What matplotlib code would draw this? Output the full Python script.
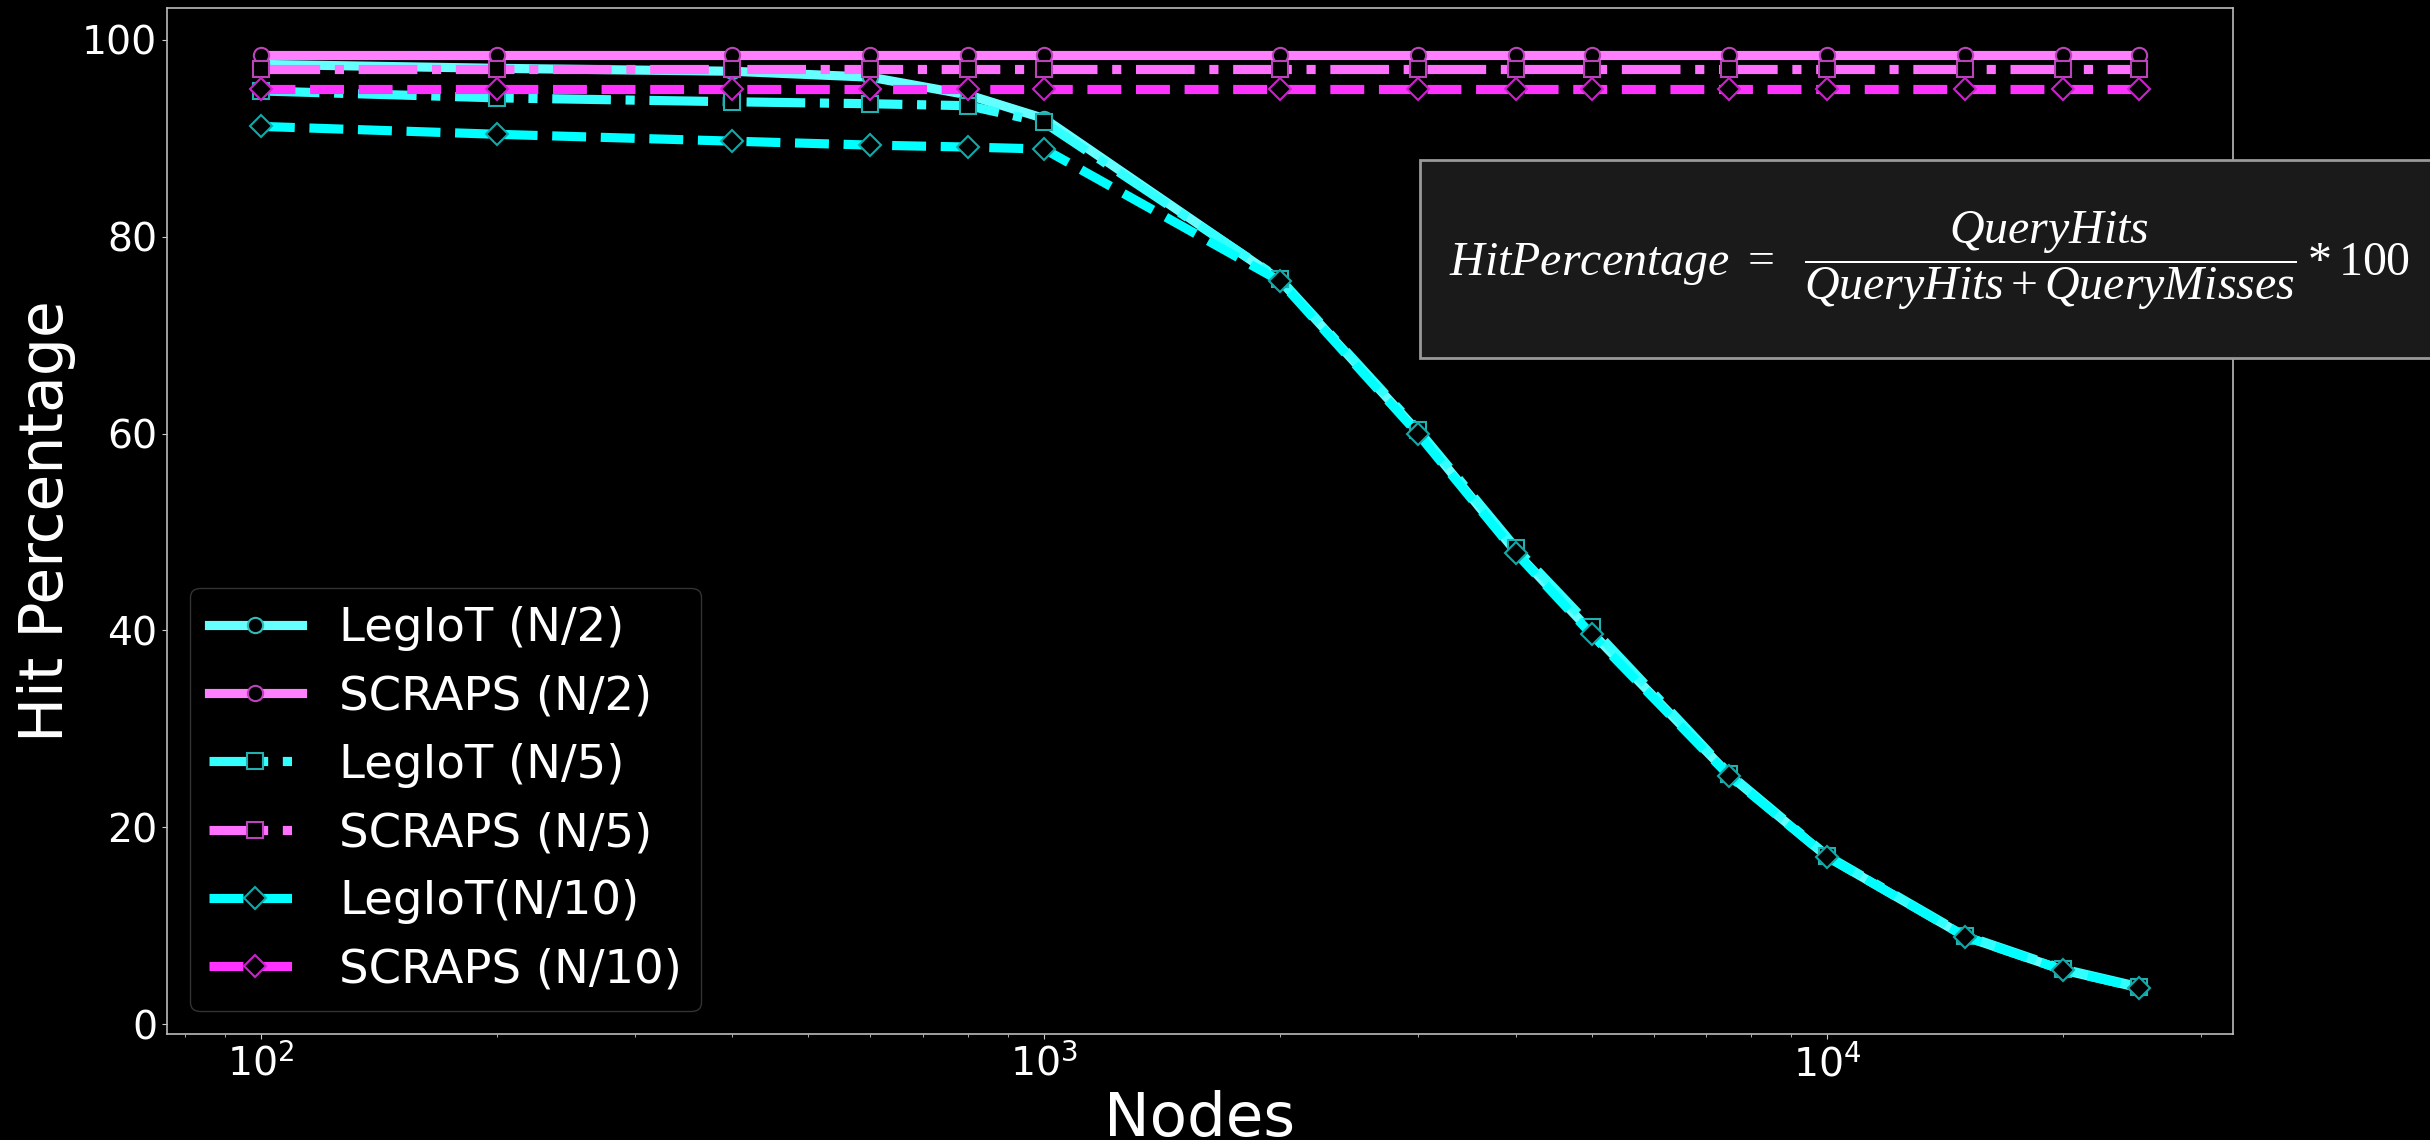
import matplotlib
matplotlib.use('Agg')
import matplotlib.pyplot as plt
from matplotlib.patches import Rectangle

plt.style.use('dark_background')
plt.rcParams['mathtext.fontset'] = 'custom'
plt.rcParams['mathtext.it'] = 'Liberation Serif:italic'
plt.rcParams['mathtext.rm'] = 'Liberation Serif'

nodes = [100, 200, 400, 600, 800, 1000, 2000, 3000, 4000, 5000, 7500, 10000, 15000, 20000, 25000]
legiot_n2 = [97.5, 97.1, 96.8, 96.2, 94.4, 92.0, 75.6, 60.2, 48.0, 39.8, 25.3, 17.0, 8.9, 5.5, 3.7]
scraps_n2 = [98.5, 98.5, 98.5, 98.5, 98.5, 98.5, 98.5, 98.5, 98.5, 98.5, 98.5, 98.5, 98.5, 98.5, 98.5]
legiot_n5 = [94.8, 94.1, 93.7, 93.5, 93.3, 91.6, 75.7, 60.4, 48.4, 40.3, 25.4, 17.1, 9.0, 5.6, 3.8]
scraps_n5 = [97.0, 97.0, 97.0, 97.0, 97.0, 97.0, 97.0, 97.0, 97.0, 97.0, 97.0, 97.0, 97.0, 97.0, 97.0]
legiot_n10 = [91.2, 90.4, 89.7, 89.3, 89.1, 88.9, 75.5, 60.0, 47.9, 39.6, 25.2, 17.0, 8.9, 5.5, 3.7]
scraps_n10 = [95.0, 95.0, 95.0, 95.0, 95.0, 95.0, 95.0, 95.0, 95.0, 95.0, 95.0, 95.0, 95.0, 95.0, 95.0]

series = [
    ("LegIoT (N/2)", legiot_n2, '#66ffff', '#33bbbb', '-', 'o'),
    ("SCRAPS (N/2)", scraps_n2, '#ff80ff', '#bb44bb', '-', 'o'),
    ("LegIoT (N/5)", legiot_n5, '#33ffff', '#22b0b0', '-.', 's'),
    ("SCRAPS (N/5)", scraps_n5, '#ff70ff', '#bb44bb', '-.', 's'),
    ("LegIoT(N/10)", legiot_n10, '#00ffff', '#11aaaa', '--', 'D'),
    ("SCRAPS (N/10)", scraps_n10, '#ff33ff', '#cc22cc', '--', 'D'),
]

fig = plt.figure(figsize=(24.3, 11.4), dpi=100)
fig.patch.set_facecolor('black')
ax = fig.add_axes([0.0687, 0.0926, 0.8502, 0.9005])
ax.set_facecolor('black')

for label, vals, col, mec, ls, mk in series:
    ax.plot(nodes, vals, linestyle=ls, color=col, linewidth=6.6, marker=mk,
            markersize=11, markerfacecolor='black', markeredgecolor=mec,
            markeredgewidth=1.5, label=label)

ax.set_xscale('log')
ax.set_yticks([0, 20, 40, 60, 80, 100])
ax.tick_params(axis='both', which='major', labelsize=28.4, colors='#cccccc', labelcolor='white')
ax.tick_params(axis='both', which='minor', colors='#cccccc')
for sp in ax.spines.values():
    sp.set_color('#bbbbbb')
    sp.set_linewidth(1.2)

ax.set_xlabel('Nodes', fontsize=44, color='white')
ax.set_ylabel('Hit Percentage', fontsize=43.2, color='white')

leg = ax.legend(loc='lower left', fontsize=33.5, labelspacing=0.5,
                facecolor='black', edgecolor='#333333', framealpha=1.0)
for t in leg.get_texts():
    t.set_color('white')

box = Rectangle((1420 / 2430, 1 - 358 / 1140), 0.5, (358 - 160) / 1140,
                transform=fig.transFigure, facecolor='#1a1a1a',
                edgecolor='#999999', linewidth=2, zorder=5, clip_on=False)
fig.add_artist(box)
fig.text(1449 / 2430, 1 - 261 / 1140,
         r'$HitPercentage\ =\ \ \dfrac{QueryHits}{QueryHits + QueryMisses}*100$',
         fontsize=34.5, color='white', ha='left', va='center', zorder=6)

fig.savefig('out.png', dpi=100, facecolor='black')
